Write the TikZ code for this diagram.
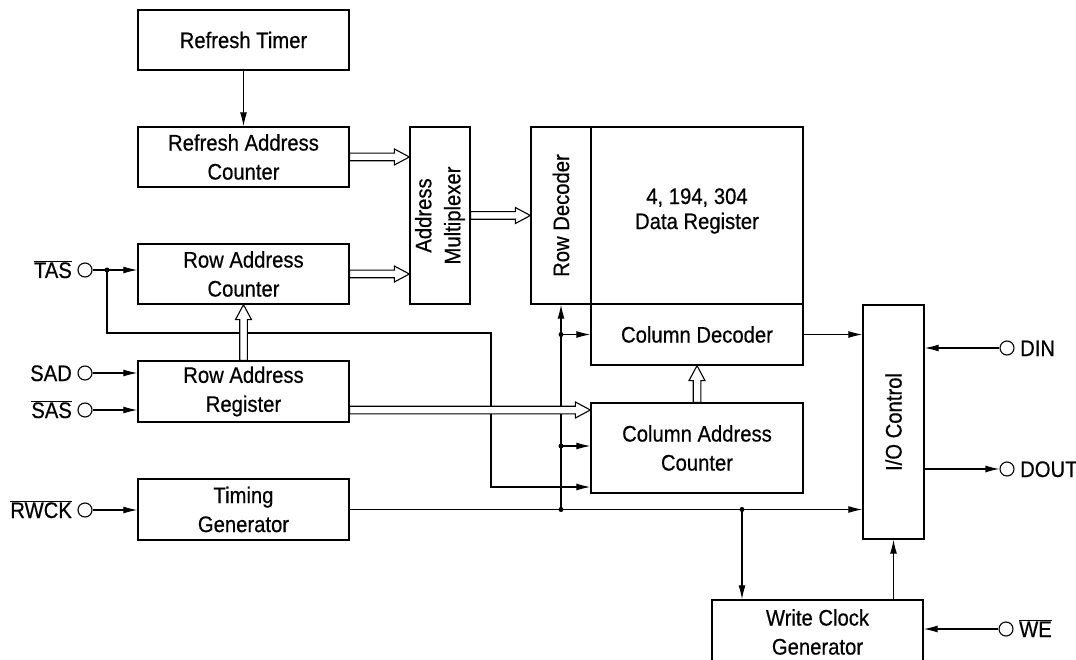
\documentclass[tikz,border=0pt]{standalone}
\usepackage{fontspec}
\setmainfont{Liberation Sans}[FakeStretch=0.9,FakeBold=0.5]
\usetikzlibrary{arrows.meta,calc}
\begin{document}
\begin{tikzpicture}[x=1pt,y=-1pt,
  font=\fontsize{22.5}{29}\selectfont,
  line width=1.2pt,
  box/.style={draw,line width=1.3pt,inner sep=0pt,align=center},
  lbl/.style={inner sep=0pt,align=center},
  pinc/.style={draw,circle,minimum size=14pt,inner sep=0pt,line width=1.1pt},
  sig/.style={-{Latex[length=14pt,width=7pt]}},
  jdot/.style={circle,fill,inner sep=0pt,minimum size=5pt},
  bus/.style={draw,fill=white,line width=1.1pt,to path={let \p1=(\tikztostart), \p2=(\tikztotarget), \n1={veclen(\x2-\x1,\y2-\y1)}, \n2={atan2(\y2-\y1,\x2-\x1)} in {[shift={(\p1)},rotate=\n2] (0pt,3.8pt) -- (\n1-15pt,3.8pt) -- (\n1-15pt,8pt) -- (\n1,0pt) -- (\n1-15pt,-8pt) -- (\n1-15pt,-3.8pt) -- (0pt,-3.8pt) -- cycle}}},
]
\clip (0,0) rectangle (1076,660);

% boxes
\node[box,minimum width=211pt,minimum height=60pt] (rt) at (243.5,40) {Refresh Timer};
\node[box,minimum width=211pt,minimum height=60pt] (rac) at (243.5,157) {Refresh Address\\Counter};
\node[box,minimum width=211pt,minimum height=60pt] (rowac) at (243.5,274) {Row Address\\Counter};
\node[box,minimum width=211pt,minimum height=61pt] (rar) at (243.5,391.5) {Row Address\\Register};
\node[box,minimum width=211pt,minimum height=61pt] (tg) at (243.5,509.5) {Timing\\Generator};
\node[box,minimum width=60pt,minimum height=177pt] (mux) at (440,215.5) {};
\node[lbl,rotate=90] (muxt) at (mux.center) {Address\\Multiplexer};
\node[box,minimum width=60pt,minimum height=177pt] (rowdec) at (561,215.5) {};
\node[lbl,rotate=90] (rowdect) at (rowdec.center) {Row Decoder};
\node[box,minimum width=212pt,minimum height=177pt] (datareg) at (697,215.5) {};
\node[lbl,font=\fontsize{22.5}{25}\selectfont] (dregt) at (697,211) {4, 194, 304\\Data Register};
\node[box,minimum width=212pt,minimum height=61pt] (coldec) at (697,334.5) {Column Decoder};
\node[box,minimum width=212pt,minimum height=90pt] (cac) at (697,448) {Column Address\\Counter};
\node[box,minimum width=61pt,minimum height=234pt] (io) at (893.5,422) {};
\node[lbl,rotate=90] (iot) at (io.center) {I/O Control};
\node[box,minimum width=211pt,minimum height=64pt] (wcg) at (817.5,632) {Write Clock\\Generator};

% pins
\node[pinc] (tas) at (85,270) {};
\node[pinc] (sad) at (85,373) {};
\node[pinc] (sas) at (85,410) {};
\node[pinc] (rwck) at (85,510) {};
\node[pinc] (din) at (1007,348) {};
\node[pinc] (dout) at (1007,469) {};
\node[pinc] (we) at (1006,629) {};

\node[lbl,anchor=base east] (tasl) at ($(tas.west)+(-5,8)$) {$\overline{\mbox{TAS}}$};
\node[lbl,anchor=base east] (sadl) at ($(sad.west)+(-5,8)$) {SAD};
\node[lbl,anchor=base east] (sasl) at ($(sas.west)+(-5,8)$) {$\overline{\mbox{SAS}}$};
\node[lbl,anchor=base east] (rwckl) at ($(rwck.west)+(-5,8)$) {$\overline{\mbox{RWCK}}$};
\node[lbl,anchor=base west] (dinl) at ($(din.east)+(5,8)$) {DIN};
\node[lbl,anchor=base west] (doutl) at ($(dout.east)+(5,8)$) {DOUT};
\node[lbl,anchor=base west] (wel) at ($(we.east)+(5,8)$) {$\overline{\mbox{WE}}$};

% coordinates
\coordinate (t1) at (107,270);
\coordinate (t2) at (107,333);
\coordinate (t3) at (491,333);
\coordinate (t4) at (491,487);
\coordinate (j1) at (rowdec.south |- tg.east);
\coordinate (j2) at (742,0 |- tg.east);
\coordinate (d1) at (j1 |- coldec.west);
\coordinate (d2) at (561,446);
\coordinate (b1) at (0,410);

% signal lines
\draw[sig] (rt) -- (rac);
\draw[sig] (tas) -- (tas -| rowac.west);
\draw[sig] (t1) -- (t2) -- (t3) -- (t4) -- (t4 -| cac.west);
\draw[sig] (sad) -- (sad -| rar.west);
\draw[sig] (sas) -- (sas -| rar.west);
\draw[sig] (rwck) -- (rwck -| tg.west);
\draw[sig] (tg.east) -- (io.west |- tg.east);
\draw[sig] (j1) -- (rowdec.south);
\draw[sig] (d1) -- (d1 -| coldec.west);
\draw[sig] (d2) -- (d2 -| cac.west);
\draw[sig] (j2) -- (j2 |- wcg.north);
\draw[sig] (wcg.north -| io.south) -- (io.south);
\draw[sig] (coldec.east) -- (io.west |- coldec.east);
\draw[sig] (din) -- (din -| io.east);
\draw[sig] (io.east |- dout) -- (dout);
\draw[sig] (we) -- (we -| wcg.east);

% buses
\draw[bus] (rac.east) to (mux.west |- rac.east);
\draw[bus] (rowac.east) to (mux.west |- rowac.east);
\draw[bus] (mux.east) to (rowdec.west |- mux.east);
\draw[bus] (rar.north) to (rowac.south);
\draw[bus] (rar.east |- b1) to (cac.west |- b1);
\draw[bus] (cac.north) to (coldec.south);

% junction dots
\node[jdot] (dt1) at (t1) {};
\node[jdot] (dj1) at (j1) {};
\node[jdot] (dj2) at (j2) {};
\node[jdot] (dd1) at (d1) {};
\node[jdot] (dd2) at (d2) {};
\end{tikzpicture}
\end{document}
